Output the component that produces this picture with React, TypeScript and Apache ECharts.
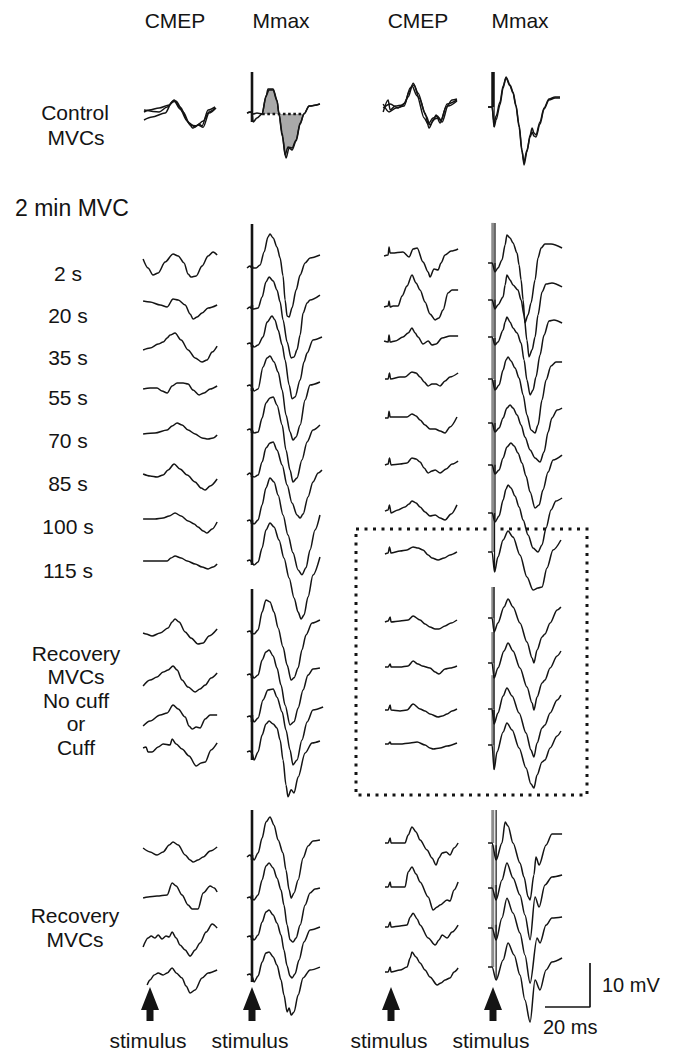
import React, { useEffect, useRef } from "react";
import * as echarts from "echarts";

type Pt = [number, number];

// ---------- layout ----------
const WIDTH = 674;
const HEIGHT = 1051;
const PX_PER_MS = 2.25; // 20 ms scale bar = 45 px
const PX_PER_MV = 4.4; // 10 mV scale bar = 44 px
const FONT = '"Liberation Sans", Arial, Helvetica, sans-serif';

// ---------- labels ----------
const COLUMN_TITLES = ["CMEP", "Mmax", "CMEP", "Mmax"];
const COLUMN_TITLE_X = [175, 281, 418, 520];
const TIME_LABELS = ["2 s", "20 s", "35 s", "55 s", "70 s", "85 s", "100 s", "115 s"];
const TIME_LABEL_Y = [273, 315, 357, 397, 440, 483, 526, 570];
const RECOVERY_CUFF_LINES = ["Recovery", "MVCs", "No cuff", "or", "Cuff"];
const RECOVERY_LINES = ["Recovery", "MVCs"];
const STIMULUS_X = [150, 252, 391, 493];

// ---------- axes origins (ms, mV) ----------
const COLUMN_T0_MS = [63.6, 109.8, 170.7, 216.9];
// rows: Control, 2,20,35,55,70,85,100,115 s, recovery (no cuff/cuff) x4, recovery x4
const ROW_BASE_MV = [
  -25.0, -58.86, -68.41, -79.55, -88.41, -98.64, -107.73, -117.95, -127.5,
  -143.86, -154.55, -163.64, -170.0, -192.73, -204.09, -213.64, -221.59,
];
const SCALE_MS = 20;
const SCALE_MV = 10;

// ---------- traces: [ms after sweep start, mV relative to row] ----------
const cmepLeft: Pt[][][] = [
  [
    [[0.4,0],[7.1,-0.45],[10.7,0.68],[13.8,2.27],[16.4,0.68],[20.4,-2.95],[23.1,-3.86],[24.9,-3.2],[26.2,-3.6],[28.9,0],[32,0.68]],
    [[0.4,-2.27],[4,-1.6],[9.8,-0.7],[12.9,1.8],[14.7,2.0],[17.8,-0.45],[20.9,-3.4],[23.6,-3.6],[26.7,-2.5],[29.3,-0.45],[32,0.45]],
    [[0.4,-0.45],[2.7,0],[7.1,0.45],[11.6,1.14],[13.8,2.05],[16.4,0.23],[19.6,-2.5],[22.2,-4.1],[24.4,-3.4],[26.7,-3.9],[29.3,-0.7],[32.4,0.45]],
  ],
  [[[0,0],[2.2,-2.05],[4.4,-3.64],[6.7,-3.2],[9.8,-0.68],[13.3,1.14],[15.6,0.68],[18.2,-0.9],[20,-3.4],[21.3,-4.1],[23.6,-3.86],[26.2,-1.6],[28.9,0.68],[31.1,1.6],[32.9,0.9]]],
  [[[0,0],[3.1,-0.23],[7.6,-0.9],[10.7,-1.36],[13.3,0.45],[15.6,0.23],[18.7,-0.9],[20.9,-2.95],[22.2,-4.1],[24,-3.64],[26.2,-2.73],[28.9,-1.6],[32.9,-0.9]]],
  [[[0,0],[3.1,0.45],[6.7,1.36],[8.9,1.8],[10.7,2.73],[12,3.4],[14.2,3.86],[16.9,2.27],[20,0],[23.1,-1.8],[26.2,-2.73],[28.4,-2.27],[30.7,-0.45],[32.9,0.9]]],
  [[[0,0],[3.1,0.23],[6.2,0.23],[8.4,-0.45],[10.7,-0.9],[12.9,0.68],[15.1,1.36],[17.8,1.36],[20,1.14],[22.2,-0.23],[24.9,-1.36],[27.1,-0.9],[29.8,0],[32.9,0.68]]],
  [[[0,0],[5.3,0.23],[10.7,0.9],[12.9,1.8],[15.1,2.5],[17.3,2.05],[20,0.9],[23.1,0],[26.2,-0.9],[28.9,-1.14],[31.1,-0.9],[32.9,-0.23]]],
  [[[0,0],[3.1,-0.45],[6.2,-0.68],[8.9,-0.23],[11.1,0.9],[13.8,2.27],[16.4,1.14],[19.6,-0.23],[23.1,-1.8],[25.8,-3.2],[27.6,-3.64],[29.8,-2.73],[32.9,-1.14]]],
  [[[0,0],[5.3,0],[8.9,0.23],[11.6,0.68],[14.2,1.36],[16.9,0.68],[20,-0.45],[22.7,-1.14],[24.4,-1.8],[26.7,-2.73],[28.4,-3.2],[30.7,-2.27],[32.9,-0.68]]],
  [[[0,0],[5.3,0],[10.7,0],[12.4,0.68],[14.2,1.14],[16.9,0.68],[19.6,0],[23.1,-0.68],[26.2,-1.36],[28.9,-1.8],[31.1,-1.36],[32.9,-0.68]]],
  [[[0,0],[1.3,-0.23],[4,-0.68],[7.6,0],[11.1,1.14],[12.9,2.5],[14.2,3.2],[16,2.5],[18.7,0.23],[21.3,-1.14],[24.4,-2.5],[26.7,-2.27],[29.3,-0.68],[32.9,0.9]]],
  [[[0,-1.36],[3.1,0],[6.2,0.68],[8.9,1.8],[11.1,2.27],[13.3,3.2],[15.1,2.27],[17.3,0],[20,-1.6],[23.1,-2.73],[25.3,-2.05],[27.6,-1.14],[30.2,0.45],[32.9,1.6]]],
  [[[0,-1.36],[3.1,-0.23],[7.6,1.14],[10.7,1.6],[13.3,3.4],[15.6,2.5],[18.7,0.68],[20.4,-1.36],[21.8,-2.05],[23.6,-1.6],[25.3,-1.8],[27.6,0.23],[29.8,1.14],[32.9,1.14]]],
  [[[0,0],[1.3,0.23],[2.2,-0.9],[4,-0.9],[6.7,0.23],[8.9,0.9],[12,0.68],[12.9,2.05],[14.7,0.9],[17.3,-0.23],[20.4,-1.8],[23.6,-4.1],[25.8,-3.4],[27.6,-3.2],[30.2,-0.45],[32.9,1.14]]],
  [[[0,0],[3.1,-0.9],[6.2,-1.6],[8.9,-0.9],[11.6,0.68],[13.3,1.36],[15.6,0.68],[18.7,-1.6],[20.9,-2.73],[22.2,-3.2],[24.4,-2.73],[26.7,-2.05],[29.8,-0.68],[32.9,0.23]]],
  [[[0,0],[2.2,0.23],[6.2,0.45],[10.7,0.68],[12.9,3.4],[14.7,2.73],[17.3,0.68],[20,-1.6],[21.8,-2.5],[24.4,-2.5],[26.7,1.14],[29.8,2.73],[31.6,2.27],[32.9,1.36]]],
  [[[0,-1.6],[2.2,0.45],[3.6,0.9],[5.3,0.45],[6.7,1.14],[8.4,0.23],[10.2,0.9],[11.6,0.68],[12.9,1.8],[14.7,0.45],[16.4,-1.14],[18.7,-2.27],[20.9,-3.64],[23.1,-2.27],[25.3,-0.68],[28,1.8],[30.7,3.64],[32.9,2.73]]],
  [[[1.8,-2.27],[3.1,-1.14],[4.9,0],[6.7,0.45],[8.9,0],[10.7,0.45],[12.9,1.6],[14.7,0.45],[17.3,-0.68],[19.1,-2.5],[20.9,-4.1],[23.1,-3.4],[26.2,-0.68],[28.9,0.45],[32.9,1.14]]],
];

const mmaxLeft: Pt[][][] = [
  [
    [[0,-0.68],[1.3,-0.45],[2.2,-0.68],[2.7,-2.73],[4.4,-1.8],[6.7,-0.9],[8.4,2.95],[9.3,4.77],[11.6,4.77],[13.3,2.27],[14.2,-0.9],[15.6,-5.2],[16.9,-10.2],[18.2,-8.4],[20,-8.64],[21.8,-6.82],[23.6,-2.95],[25.3,-0.9],[27.6,0.9],[32.4,1.36]],
    [[0,-0.68],[1.8,-0.45],[2.7,-0.9],[4.4,-0.68],[6.7,-0.9],[8.4,3.2],[9.8,4.55],[11.6,4.55],[13.3,2.05],[14.2,-0.9],[15.6,-5.9],[17.3,-10.9],[18.7,-8.64],[20,-9.1],[21.8,-7.05],[23.6,-3.2],[25.3,-0.9],[27.6,0.9],[32.4,1.36]],
  ],
  [[[0,-2.05],[1.3,-1.6],[2.2,-2.05],[2.7,-2.05],[4,-2.05],[5.8,-1.36],[7.6,1.6],[9.3,5],[10.2,5.68],[11.6,4.77],[13.3,2.73],[14.7,0.23],[16,-3.86],[16.9,-9.3],[17.8,-12.95],[18.7,-13.2],[20,-11.1],[21.8,-7.05],[23.6,-3.64],[25.8,-0.9],[28,0.23],[32.4,0.9]]],
  [[[0,-1.8],[1.3,-1.36],[2.2,-1.8],[3.1,-1.8],[4.9,-1.6],[6.7,0.9],[8.4,4.3],[9.8,5.45],[11.6,4.55],[13.3,2.5],[14.7,-0.23],[16,-4.3],[17.8,-9.3],[19.6,-12.95],[20.9,-12.7],[22.2,-11.1],[23.6,-7.7],[24.9,-2.73],[26.7,-0.45],[28,0.23],[32.4,1.36]]],
  [[[0,1.36],[1.3,1.6],[2.2,1.14],[3.1,0.68],[4.9,1.14],[7.1,2.95],[8.9,6.36],[11.1,7.73],[12.4,6.82],[13.8,4.55],[15.6,1.14],[16.9,-2.27],[18.7,-7.95],[20,-11.1],[21.3,-10.7],[23.6,-6.82],[25.3,-2.73],[26.7,-0.68],[29.3,2.27],[33.3,2.95]]],
  [[[0,0.68],[1.3,0.9],[2.2,0.45],[3.1,-0.45],[4.9,0],[7.1,5],[8.9,7.05],[10.2,7.5],[12,6.14],[13.8,3.86],[15.6,-0.23],[17.3,-5.9],[19.1,-9.77],[20.4,-11.6],[21.8,-10.9],[23.6,-8.2],[25.8,-2.5],[28,0.9],[32.4,1.6]]],
  [[[0,0.9],[1.3,1.14],[2.2,0.68],[3.1,0.23],[4.9,0.45],[6.7,3.64],[8.4,7.05],[10.2,8.2],[11.6,8.4],[13.3,6.6],[15.6,2.05],[17.3,-3.64],[19.1,-8.2],[20.4,-10.9],[22.2,-10],[24.4,-5.9],[26.7,-1.8],[29.3,0.9],[32.4,2.05]]],
  [[[0,-0.23],[1.3,0.23],[2.2,-0.45],[3.1,-0.68],[4.9,-0.23],[6.7,2.73],[8.4,5.9],[10.2,7.05],[11.6,7.27],[13.3,5.45],[15.6,2.05],[17.8,-2.5],[20,-6.6],[22.2,-9.3],[23.6,-10],[24.9,-9.1],[27.1,-5.2],[29.3,-1.8],[31.6,0.23],[33.3,0.9]]],
  [[[0,-0.45],[1.3,-0.23],[2.2,-0.9],[3.1,-1.14],[4.9,-0.23],[6.7,3.2],[8.4,7.05],[10.2,9.3],[12,8.4],[13.8,5.45],[16,0.9],[18.2,-3.64],[20.4,-7.7],[22.7,-11.6],[24.4,-12.7],[26.2,-11.1],[28,-7.05],[30.2,-2.5],[32.4,0.9]]],
  [[[0,0],[1.3,0.23],[2.2,-0.45],[3.1,-0.9],[4.9,-0.23],[6.7,2.95],[8.4,7.05],[10.2,8.64],[12,7.73],[14.2,4.77],[16.4,0.68],[18.7,-3.86],[20.9,-8.4],[22.7,-11.6],[24,-13.2],[25.3,-12.3],[27.1,-8.2],[29.3,-3.2],[32.4,0.9]]],
  [[[0,0.23],[1.3,0.45],[2.2,0],[3.1,-0.23],[4.9,0.68],[6.7,4.77],[8.4,7.5],[10.2,7.05],[12,4.77],[13.8,1.14],[16,-3.2],[17.8,-7.27],[19.6,-10.7],[20.9,-10.2],[22.7,-7.95],[24.4,-3.86],[26.2,-0.45],[28.9,2.27],[32.4,2.95]]],
  [[[0,1.14],[1.3,1.36],[2.2,0.9],[3.1,0.45],[4.9,1.14],[6.7,4.55],[8.4,6.36],[9.8,6.82],[11.6,5.45],[13.3,2.73],[15.1,-1.14],[16.9,-5.68],[19.1,-10.2],[20.9,-9.5],[22.7,-6.36],[24.9,-2.27],[27.1,1.14],[29.3,2.5],[32.4,2.73]]],
  [[[0,0.68],[1.3,0.9],[2.2,0.45],[3.1,-0.45],[4.9,0.45],[7.1,4.55],[9.3,6.82],[11.6,7.05],[13.3,5.2],[15.6,1.8],[17.3,-2.27],[19.1,-6.82],[20.4,-10.2],[22.2,-9.1],[24.4,-4.55],[26.7,-0.45],[29.3,2.27],[33.8,2.95]]],
  [[[0,-0.9],[1.3,-0.68],[2.2,-1.14],[3.1,-2.73],[4.9,-0.9],[6.7,2.95],[8.4,5.45],[9.8,6.14],[11.6,5.45],[13.3,4.55],[14.7,1.8],[16,-2.73],[17.3,-8.4],[18.2,-11.1],[19.6,-9.5],[20.9,-10.2],[22.7,-6.6],[25.8,-1.14],[28.9,1.14],[32.4,1.6]]],
  [[[0,-2.05],[1.3,-1.6],[2.2,-2.05],[3.1,-2.73],[4.9,-1.14],[6.7,2.27],[8.4,5.9],[10.2,7.05],[12,5.2],[13.8,1.8],[16,-1.14],[17.3,-5],[18.7,-9.5],[19.6,-11.4],[20.9,-10.2],[22.7,-7.27],[24.9,-2.27],[27.1,0.45],[29.3,1.6],[32.4,1.8]]],
  [[[0,0],[1.3,0.23],[2.2,-0.23],[3.1,-0.45],[4.9,0.68],[6.7,4.1],[8.4,7.27],[9.8,7.95],[11.6,6.82],[13.3,4.55],[15.1,1.8],[16.4,-1.6],[17.8,-6.14],[19.1,-9.5],[20.4,-10],[21.8,-9.1],[23.6,-6.14],[25.8,-1.6],[28,1.14],[30.2,2.05],[32.4,2.27]]],
  [[[0,0.68],[1.3,0.9],[2.2,0.45],[3.1,0],[4.9,1.14],[6.7,4.1],[8.4,6.36],[9.8,6.82],[11.6,5.68],[13.3,3.86],[15.1,1.14],[16.4,-2.27],[17.8,-5.9],[19.1,-8.2],[20,-8.64],[21.3,-7.73],[23.1,-4.55],[25.3,-0.45],[28,2.27],[32.4,2.95]]],
  [[[0,0],[1.3,0.23],[2.2,-0.23],[3.1,-1.6],[4.9,-0.23],[6.7,2.95],[8.4,5],[9.8,5.23],[11.6,4.1],[13.3,2.27],[15.1,-1.14],[16.4,-4.55],[17.8,-8.4],[18.7,-7.5],[19.6,-9.1],[20.9,-8.4],[22.7,-4.55],[24.9,-0.68],[28,1.14],[32.4,1.8]]],
];

const cmepRight: Pt[][][] = [
  [
    [[-0.4,-0.45],[1.8,2.27],[2.7,0],[4.9,0.9],[8.4,1.14],[10.7,2.95],[12.9,6.1],[15.1,3.86],[18.2,-0.68],[20,-4.1],[21.8,-2.5],[23.1,-1.14],[24.9,-2.95],[27.6,0.68],[30.2,2.27],[32.4,2.5]],
    [[-0.4,0.45],[2.7,1.36],[6.2,0.45],[9.3,1.6],[11.1,4.1],[12.4,5.45],[14.7,3.2],[17.8,-1.8],[19.6,-3.2],[21.8,-1.8],[23.6,-1.36],[25.3,-2.27],[28,1.36],[32.4,2.27]],
    [[-0.4,1.36],[2.2,-0.45],[5.3,0.45],[8.9,0.9],[11.6,5],[13.3,5.7],[15.6,2.73],[18.7,-1.36],[20.4,-3.4],[22.2,-2.05],[24,-1.8],[25.8,-2.73],[28.4,0.9],[32.4,2.05]],
  ],
  [[[0,0.68],[1.8,0.9],[2.2,2.73],[2.7,1.36],[3.6,1.36],[8.4,1.6],[11.1,0.45],[12.9,2.27],[14.7,2.5],[17.3,-0.68],[19.6,-2.95],[20.4,-4.1],[22.2,-2.27],[24,-2.5],[25.3,-0.9],[27.1,0.9],[29.8,1.8],[32.9,2.27]]],
  [[[0,-1.36],[1.8,-1.14],[2.2,0],[2.7,-1.36],[4,-1.14],[6.2,-1.14],[8,1.14],[10.2,3.4],[12.4,5.9],[14.2,4.1],[16,2.5],[18.2,-0.23],[20.4,-2.95],[22.7,-4.3],[24.4,-3.86],[26.2,-2.05],[28.4,1.8],[30.2,2.5],[32.9,2.5]]],
  [[[0,2.05],[1.8,1.8],[2.2,3.4],[2.7,1.8],[4.9,2.05],[8.4,2.95],[10.7,3.86],[12.4,5],[13.8,3.86],[15.1,2.95],[17.3,1.36],[19.6,2.05],[21.3,1.14],[23.1,1.36],[25.8,2.73],[29.3,3.2],[32.9,3.2]]],
  [[[0.4,2.27],[1.8,2.27],[2.4,3.64],[2.9,2.27],[7.1,2.73],[9.3,2.73],[12.4,3.86],[14.2,3.64],[16,2.73],[17.8,1.6],[19.6,0.68],[21.3,1.14],[23.1,1.14],[24.9,0.68],[27.1,1.8],[29.3,2.73],[32.9,3.64]]],
  [[[0.4,3.64],[1.8,3.64],[2.2,5.2],[2.7,3.86],[7.1,3.86],[10.2,3.86],[12.4,4.55],[14.2,4.1],[16,3.2],[18.2,2.05],[20.4,1.14],[22.7,1.14],[24.9,0.68],[27.1,0.23],[29.3,1.6],[32.4,3.86]]],
  [[[0.4,2.05],[1.8,2.27],[2.4,3.64],[3.1,2.05],[7.1,2.27],[10.2,2.5],[12.4,3.64],[14.2,3.4],[16,2.73],[17.8,1.36],[19.6,0.23],[21.3,0.68],[22.7,0.9],[24.9,0.23],[27.6,1.14],[30.2,2.27],[32.9,2.95]]],
  [[[0.4,1.8],[1.8,2.05],[2.4,3.2],[3.1,1.36],[6.2,2.05],[9.3,2.73],[11.1,3.4],[12.4,4.1],[14.2,3.64],[16,2.73],[18.2,1.6],[20.4,0.68],[22.7,0.9],[24.9,0.23],[27.1,-0.23],[29.8,1.14],[32.4,3.2]]],
  [[[0.4,1.6],[1.8,1.8],[2.4,3.2],[3.1,1.8],[7.1,2.27],[10.2,2.5],[12.9,3.2],[15.1,2.95],[17.3,2.5],[19.6,1.36],[21.3,0.68],[24,0.23],[26.7,0.68],[29.3,1.36],[32.4,2.05]]],
  [[[0.4,2.5],[1.8,2.73],[2.7,3.64],[3.1,2.5],[7.1,2.73],[10.7,2.95],[12.9,3.86],[16,2.95],[18.2,2.05],[20.4,1.36],[22.7,0.9],[24.4,0.9],[27.1,1.6],[29.8,2.27],[32.4,2.95]]],
  [[[0.4,2.95],[1.8,2.95],[2.7,3.64],[3.1,2.95],[7.1,2.95],[10.7,3.2],[12.9,4.3],[15.1,3.64],[16.9,3.2],[20.4,2.73],[22.7,1.8],[24.4,1.36],[27.1,2.5],[29.3,2.73],[32.4,3.2]]],
  [[[0.4,2.27],[1.8,2.27],[2.7,3.4],[3.1,2.27],[7.1,2.05],[10.2,2.27],[12.9,3.64],[16,2.5],[18.2,2.05],[20.4,1.36],[24,0.68],[25.8,0.9],[28,1.36],[30.2,2.05],[32.4,2.5]]],
  [[[0.4,0.9],[1.8,0.9],[2.7,1.36],[3.1,0.9],[7.1,0.9],[11.6,1.14],[14.7,1.36],[18.2,0.68],[20.4,0],[21.8,-0.23],[24.9,0],[28,0.45],[32.4,1.14]]],
  [[[0.4,1.14],[1.8,1.14],[2.7,2.27],[3.1,1.14],[7.1,1.14],[9.3,1.14],[10.7,2.95],[12.4,4.8],[14.2,3.64],[16,1.8],[19.1,-0.45],[21.3,-2.27],[23.1,-3.86],[24.4,-2.27],[25.8,-1.14],[27.6,-0.9],[29.3,-1.6],[31.1,0],[32.9,1.14]]],
  [[[0.4,2.5],[1.8,2.5],[2.7,3.64],[3.1,2.5],[7.1,2.5],[9.3,2.5],[10.7,5.9],[12.4,7.05],[14.2,5.45],[16,3.64],[19.6,0.23],[21.8,-2.73],[23.6,-2.05],[24.9,-1.6],[28,-0.45],[29.3,-0.68],[31.1,1.8],[32.9,3.64]]],
  [[[0.4,2.95],[1.8,2.95],[2.7,4.1],[3.1,2.95],[7.1,3.2],[10.2,3.4],[11.6,5.2],[12.9,6.1],[14.7,4.8],[16,3.4],[19.6,0.45],[22.7,-1.14],[24.4,0],[25.8,1.14],[28,0.45],[30.2,1.8],[32.9,3.4]]],
  [[[0.4,0.68],[1.8,0.68],[2.7,1.8],[3.1,0.68],[7.1,1.14],[10.2,1.8],[11.6,3.86],[12.4,5.2],[14.2,4.1],[16,2.73],[18.2,1.14],[20.4,-0.45],[23.6,-2.27],[25.3,-1.8],[27.1,-1.14],[29.3,-0.68],[31.1,0.68],[32.9,1.6]]],
];

const mmaxRight: Pt[][][] = [
  [
    [[0,0.68],[1.8,0.68],[2.7,-3.86],[3.6,-2.27],[5.3,1.14],[6.7,5],[8,7.5],[9.8,5.68],[11.1,4.1],[12.4,1.14],[13.8,-3.4],[15.1,-9.1],[16,-12.5],[17.3,-9.5],[18.7,-5.68],[19.6,-4.1],[20.4,-5.2],[21.3,-5.68],[23.1,-2.73],[24.9,0.45],[27.1,2.5],[29.8,2.95],[32,2.95]],
    [[0,0.68],[1.8,0.68],[2.7,-2.95],[3.6,-1.36],[5.3,1.8],[6.7,5.45],[8,7.27],[9.8,5.45],[11.1,3.86],[12.4,0.9],[13.8,-3.86],[15.1,-9.5],[16,-11.8],[17.3,-9.1],[18.7,-6.14],[19.6,-5],[20.4,-5.9],[21.3,-6.14],[23.1,-3.2],[24.9,0.23],[27.1,2.27],[29.8,2.73],[32,2.73]],
  ],
  [[[0,-0.9],[1.8,-0.9],[3.1,-2.95],[4.4,-2.05],[6.2,-0.23],[7.6,3.2],[8.4,5.45],[9.8,4.77],[11.1,3.64],[12.9,1.36],[13.8,-1.36],[14.7,-4.77],[15.6,-9.3],[16.4,-14.5],[17.8,-12.7],[19.1,-10],[20.9,-4.77],[22.2,0.23],[23.6,2.5],[25.3,3.4],[28,3.4],[32.9,2.5]]],
  [[[0,0.23],[1.8,0.23],[3.1,-1.8],[4.4,-0.9],[6.7,0.9],[7.6,3.64],[8.4,5.9],[9.8,4.77],[11.1,3.64],[13.3,2.5],[14.7,0.23],[16,-3.2],[17.3,-8.9],[18.2,-12.7],[19.6,-11.1],[20.9,-8.2],[22.2,-3.2],[24,2.05],[25.8,3.86],[28.4,4.1],[32.9,3.2]]],
  [[[0,2.95],[1.8,2.95],[3.1,1.14],[4.4,1.8],[6.7,4.55],[7.6,6.36],[8.4,7.5],[9.8,6.36],[11.1,5],[12.9,3.86],[14.7,1.6],[16,-2.27],[17.3,-6.82],[18.7,-10.2],[20,-9.1],[21.3,-6.14],[23.1,-1.14],[24.9,3.4],[27.1,6.6],[29.3,6.82],[32.9,6.14]]],
  [[[0,2.27],[1.8,2.27],[3.1,-0.23],[4.9,0.9],[6.7,4.3],[8,6.6],[8.9,7.27],[10.2,6.36],[12,4.77],[13.8,2.5],[15.6,-1.36],[17.3,-5.9],[19.1,-9.3],[20.9,-10],[22.2,-8.2],[24,-2.5],[25.8,2.05],[28,5.23],[30.2,6.14],[32.9,6.14]]],
  [[[0,2.5],[1.8,2.5],[3.1,0.45],[4.9,1.36],[6.7,3.64],[8.4,5.9],[9.8,6.6],[11.1,5.9],[12.9,4.3],[14.7,2.05],[16.4,-0.68],[18.7,-3.64],[20.9,-5.45],[23.1,-6.36],[24.9,-4.1],[26.7,0.45],[28.4,3.64],[30.7,5.45],[32.9,5.9]]],
  [[[0,2.05],[1.8,2.05],[3.1,0],[4.9,0.9],[6.7,3.64],[8.4,6.14],[10.2,7.05],[11.6,6.36],[13.3,4.77],[15.1,2.5],[16.9,-0.45],[18.7,-4.1],[20.9,-7.73],[22.7,-7.05],[24.4,-3.64],[26.7,0.45],[28.9,3.2],[32.9,4.3]]],
  [[[0,1.36],[1.8,1.36],[3.1,-0.68],[4.9,0.68],[6.7,4.3],[8,6.82],[8.9,7.73],[10.2,7.05],[12,5.23],[13.8,2.73],[15.6,-0.23],[17.8,-3.64],[20,-6.6],[22.2,-7.5],[24,-5.9],[25.8,-2.05],[28,2.05],[30.2,4.1],[32.9,4.77]]],
  [[[0,2.05],[1.8,2.05],[2.9,-2.5],[4.4,0.9],[6.7,4.77],[8.9,6.82],[11.1,5.45],[14.2,1.36],[17.3,-3.64],[20,-6.6],[22.2,-6.14],[24,-5.9],[26.2,-1.6],[28.9,2.5],[32.4,4.77]]],
  [[[0,3.4],[1.8,3.4],[2.7,0.23],[4.4,2.27],[7.1,5.9],[8.9,7.73],[11.1,5.9],[14.2,2.27],[17.3,-2.05],[19.6,-5.68],[20.4,-6.82],[21.8,-3.86],[24,-0.9],[25.3,-0.23],[27.6,2.27],[30.7,5.23],[32.4,5.9]]],
  [[[0,3.86],[1.8,3.86],[2.7,0.45],[4.4,2.73],[7.1,6.6],[8.9,8.4],[11.1,6.6],[14.2,2.73],[17.3,-1.6],[19.6,-5.23],[20.4,-6.82],[21.8,-3.86],[24,-0.68],[25.3,0],[27.6,2.73],[30.7,5.45],[32.4,6.6]]],
  [[[0,2.5],[1.8,2.5],[2.7,-0.9],[4.4,1.6],[6.7,5.45],[8.4,7.27],[10.7,5.45],[13.8,1.6],[16.9,-2.95],[19.1,-6.82],[20.4,-8.4],[21.8,-5.23],[24,-1.8],[25.3,-1.14],[27.6,1.6],[30.7,4.55],[32.4,5.68]]],
  [[[0,0.68],[1.8,0.68],[2.7,-4.9],[4,-0.9],[6.7,3.64],[8.4,5.68],[10.7,4.1],[13.8,0],[16.9,-4.55],[19.1,-8.2],[20.4,-9.1],[21.8,-6.14],[24,-3.2],[25.3,-2.73],[27.6,0],[30.7,2.73],[32.4,3.86]]],
  [[[0,1.14],[1.8,1.14],[3.6,-2.73],[6.2,1.14],[7.6,5.9],[8.9,5],[11.1,1.14],[14.2,-3.4],[16,-6.6],[17.8,-11.1],[18.7,-11.8],[20.4,-6.14],[21.3,-2.05],[22.7,-3.86],[25.8,0.68],[28.4,3.2],[32.9,3.2]]],
  [[[0,2.27],[1.8,2.27],[3.6,-0.45],[6.2,4.1],[8.4,7.95],[11.1,4.55],[14.2,0.68],[16.4,-3.86],[18.7,-9.5],[20.9,0.23],[22.7,-2.05],[25.3,2.95],[28.4,4.77],[32.9,5.23]]],
  [[[0,2.73],[1.8,2.73],[3.6,0],[6.2,5],[8.4,9.5],[11.1,6.14],[14.2,1.6],[16.4,-3.4],[18.7,-9.8],[21.8,0.45],[23.1,-0.68],[25.8,3.4],[28.4,5],[32.9,5.23]]],
  [[[0,1.8],[1.8,1.8],[3.6,-1.14],[6.7,3.4],[8.9,7.27],[11.6,4.55],[14.2,0],[16.4,-5.68],[18.7,-10.7],[20.9,-1.14],[23.1,-3.4],[25.8,1.14],[28.4,2.95],[32.9,3.86]]],
];

// stimulus artefact tops (mV above row baseline)
const ARTIFACT_TOP_LEFT = [8.64, 7.95, 7.95, 10.2, 10.0, 10.45, 10.0, 9.77, 9.3, 10.0, 10.7, 10.2, 7.5, 8.64, 9.77, 10.2, 9.1];
const ARTIFACT_TOP_RIGHT = [8.64, 8.2, 8.64, 11.4, 11.6, 12.3, 11.6, 12.3, 10.9, 10.45, 10.9, 10.2, 8.64, 8.64, 12.0, 12.5, 11.4];
const STIM_MS_LEFT = 2.2;
const STIM_MS_RIGHT = 2.1;
// control Mmax (left) area reference line
const AREA_REF_MV = -0.9;
const AREA_FROM_MS = 6.7;
const AREA_TO_MS = 25.3;

const INK = "#141414";

function lineSeries(data: number[][], extra: any = {}) {
  return {
    type: "line",
    data,
    symbol: "none",
    showSymbol: false,
    smooth: 0.3,
    smoothMonotone: "x",
    silent: true,
    animation: false,
    lineStyle: { color: INK, width: 1.5 },
    z: 3,
    ...extra,
  };
}

function toXY(col: number, row: number, pts: Pt[]): number[][] {
  return pts.map(([t, v]) => [COLUMN_T0_MS[col] + t, ROW_BASE_MV[row] + v]);
}

function buildOption() {
  const series: any[] = [];
  const columns = [cmepLeft, mmaxLeft, cmepRight, mmaxRight];
  columns.forEach((rows, col) =>
    rows.forEach((traces, row) =>
      traces.forEach((pts) => series.push(lineSeries(toXY(col, row, pts))))
    )
  );

  // grey area of control Mmax (left) between trace and dotted reference line
  const ctrl = mmaxLeft[0][0].filter(([t]) => t >= AREA_FROM_MS && t <= AREA_TO_MS);
  series.push(
    lineSeries(toXY(1, 0, ctrl), {
      lineStyle: { width: 0, color: INK },
      areaStyle: { color: "#a9a9a9", opacity: 1, origin: ROW_BASE_MV[0] + AREA_REF_MV },
      z: 1,
    })
  );
  series.push(
    lineSeries(
      toXY(1, 0, [
        [AREA_FROM_MS, AREA_REF_MV],
        [AREA_TO_MS, AREA_REF_MV],
      ]),
      { smooth: false, lineStyle: { color: INK, width: 2.6, type: [2.6, 2.6] }, z: 4 }
    )
  );

  // stimulus artefacts, left Mmax column: thick black vertical line
  mmaxLeft.forEach((traces, row) => {
    const near = traces[0].filter(([t]) => t >= 1.5 && t <= 3.5).map(([, v]) => v);
    const bottom = Math.min(...near);
    series.push(
      lineSeries(
        toXY(1, row, [
          [STIM_MS_LEFT, bottom],
          [STIM_MS_LEFT, ARTIFACT_TOP_LEFT[row]],
        ]),
        { smooth: false, lineStyle: { color: INK, width: 2.6 }, z: 4 }
      )
    );
  });

  // stimulus artefacts, right Mmax column: grey bar + thin black drop line
  mmaxRight.forEach((traces, row) => {
    const tick = traces[0][0][1];
    const drop = traces[0][2];
    series.push(
      lineSeries(
        toXY(3, row, [
          [STIM_MS_RIGHT, tick],
          [STIM_MS_RIGHT, ARTIFACT_TOP_RIGHT[row]],
        ]),
        { smooth: false, lineStyle: { color: row === 0 ? INK : "#8c8c8c", width: 3 }, z: 2 }
      )
    );
    series.push(
      lineSeries(
        toXY(3, row, [
          [drop[0], ARTIFACT_TOP_RIGHT[row]],
          [drop[0], drop[1]],
        ]),
        { smooth: false, lineStyle: { color: INK, width: 1.2 }, z: 4 }
      )
    );
  });

  // calibration bar (20 ms, 10 mV)
  const sbX = 590 / PX_PER_MS;
  const sbY = -1007 / PX_PER_MV;
  series.push(
    lineSeries(
      [
        [sbX - SCALE_MS, sbY],
        [sbX, sbY],
        [sbX, sbY + SCALE_MV],
      ],
      { smooth: false, lineStyle: { color: INK, width: 1.7 } }
    )
  );

  const text = (s: string, x: number, y: number, size: number, align = "center") => ({
    type: "text",
    x,
    y,
    silent: true,
    style: {
      text: s,
      font: `${size}px ${FONT}`,
      fill: INK,
      textAlign: align,
      align,
      textVerticalAlign: "middle",
      verticalAlign: "middle",
    },
  });

  const graphics: any[] = [];
  COLUMN_TITLES.forEach((s, i) => graphics.push(text(s, COLUMN_TITLE_X[i], 20, 21)));
  graphics.push(text("Control", 75, 112, 21));
  graphics.push(text("MVCs", 76, 137, 21));
  graphics.push(text("2 min MVC", 15, 208, 23, "left"));
  TIME_LABELS.forEach((s, i) => graphics.push(text(s, 68, TIME_LABEL_Y[i], 21)));
  RECOVERY_CUFF_LINES.forEach((s, i) => graphics.push(text(s, 76, 653 + i * 23.5, 21)));
  RECOVERY_LINES.forEach((s, i) => graphics.push(text(s, 75, 915 + i * 24, 21)));
  STIMULUS_X.forEach((x) => {
    graphics.push(text("stimulus", x - 2, 1040, 21));
    graphics.push({
      type: "polygon",
      x,
      y: 987,
      silent: true,
      shape: {
        points: [
          [0, 0],
          [9, 23],
          [3.5, 23],
          [3.5, 34],
          [-3.5, 34],
          [-3.5, 23],
          [-9, 23],
        ],
      },
      style: { fill: INK },
    });
  });
  graphics.push(text("10 mV", 602, 985, 20, "left"));
  graphics.push(text("20 ms", 543, 1027, 20, "left"));
  graphics.push({
    type: "rect",
    silent: true,
    shape: { x: 356, y: 529, width: 231, height: 266 },
    style: { fill: "none", stroke: INK, lineWidth: 3, lineDash: [3, 5.5] },
  });

  return {
    animation: false,
    backgroundColor: "#ffffff",
    grid: { left: 0, right: 0, top: 0, bottom: 0, containLabel: false },
    xAxis: { type: "value", min: 0, max: WIDTH / PX_PER_MS, show: false },
    yAxis: { type: "value", min: -HEIGHT / PX_PER_MV, max: 0, show: false },
    series,
    graphic: graphics,
  };
}

export default function App() {
  const ref = useRef<HTMLDivElement>(null);
  useEffect(() => {
    if (!ref.current) return;
    const chart = echarts.init(ref.current, undefined, { renderer: "svg" });
    chart.setOption(buildOption() as any);
    return () => chart.dispose();
  }, []);
  return (
    <div
      ref={ref}
      style={{ position: "absolute", left: 0, top: 0, width: WIDTH, height: HEIGHT, background: "#fff" }}
    />
  );
}
